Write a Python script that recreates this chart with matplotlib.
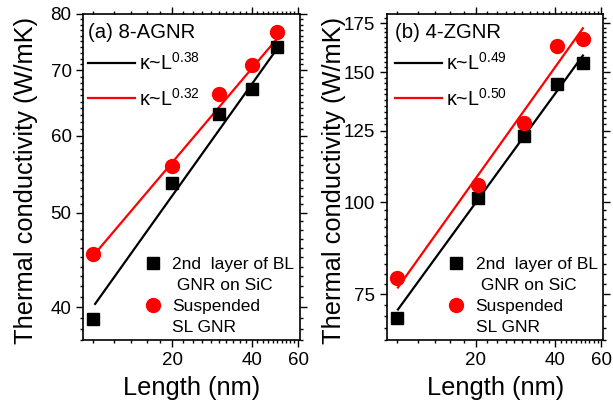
import numpy as np
import matplotlib
matplotlib.use("Agg")
import matplotlib.pyplot as plt
from matplotlib.lines import Line2D
from matplotlib.ticker import FixedLocator, FixedFormatter, NullFormatter

plt.rcParams["font.family"] = ["Liberation Sans", "DejaVu Sans"]
plt.rcParams["mathtext.fontset"] = "custom"
plt.rcParams["mathtext.rm"] = "Liberation Sans"
plt.rcParams["mathtext.it"] = "Liberation Sans:italic"

# values
agnr_length = [10, 20, 30, 40, 50]
agnr_bl = [38.9, 53.7, 63.2, 67.0, 74.0]   # 2nd layer of BL GNR on SiC
agnr_sl = [45.4, 55.9, 66.2, 70.9, 76.7]   # suspended SL GNR

zgnr_length = [10, 20.3, 30.4, 40.8, 51]
zgnr_bl = [69.7, 101.3, 122.9, 144.5, 154.5]
zgnr_sl = [78.8, 105.5, 128.2, 162.8, 166.7]

# power-law fits kappa = k0 * (L / L0)^b  (black, red)
agnr_fit_span = [10.2, 50]
agnr_fit_exp = [0.38, 0.32]
agnr_fit_k0 = [40.3, 45.4]
zgnr_fit_span = [10.1, 51]
zgnr_fit_exp = [0.49, 0.50]
zgnr_fit_k0 = [71.5, 76.6]

x_major = [20, 40, 60]
agnr_yticks = [40, 50, 60, 70, 80]
zgnr_yticks = [75, 100, 125, 150, 175]

RED = "#ff0000"
TICK_FS = 13.5
LABEL_FS = 18.3


def fit_line(span, k0, b):
    x = np.array(span, dtype=float)
    return x, k0 * (x / x[0]) ** b


def setup_axes(ax, ylim, yticks, yminor_step):
    ax.set_xscale("log")
    ax.set_yscale("log")
    ax.set_xlim(9.2, 61)
    ax.set_ylim(*ylim)

    ax.xaxis.set_major_locator(FixedLocator(x_major))
    ax.xaxis.set_major_formatter(FixedFormatter([str(v) for v in x_major]))
    xminor = [v for v in np.arange(10, 61, 2) if v not in x_major]
    ax.xaxis.set_minor_locator(FixedLocator(xminor))
    ax.xaxis.set_minor_formatter(NullFormatter())

    ax.yaxis.set_major_locator(FixedLocator(yticks))
    ax.yaxis.set_major_formatter(FixedFormatter([str(v) for v in yticks]))
    yminor = [v for v in np.arange(ylim[0], ylim[1], yminor_step) if v not in yticks]
    ax.yaxis.set_minor_locator(FixedLocator(yminor))
    ax.yaxis.set_minor_formatter(NullFormatter())

    ax.tick_params(which="both", direction="out", top=True, right=True,
                   width=1.0, labelsize=TICK_FS)
    ax.tick_params(which="major", length=5)
    ax.tick_params(which="minor", length=2.5)
    for sp in ax.spines.values():
        sp.set_linewidth(1.2)

    ax.set_xlabel("Length (nm)", fontsize=LABEL_FS, labelpad=5)
    ax.set_ylabel("Thermal conductivity (W/mK)", fontsize=LABEL_FS)


def draw_panel(ax, title, length, bl, sl, span, k0, exps, line_x):
    xb, yb = fit_line(span, k0[0], exps[0])
    xr, yr = fit_line(span, k0[1], exps[1])
    lb, = ax.plot(xb, yb, color="black", lw=1.6)
    lr, = ax.plot(xr, yr, color=RED, lw=1.6)
    sq, = ax.plot(length, bl, "s", color="black", ms=8.5, ls="none")
    ci, = ax.plot(length, sl, "o", color=RED, ms=10, ls="none")

    ax.text(line_x, 0.942, title, transform=ax.transAxes, fontsize=14.7,
            va="center", ha="left")

    leg1 = ax.legend([lb, lr],
                     [r"κ~$\mathregular{L^{%.2f}}$" % exps[0],
                      r"κ~$\mathregular{L^{%.2f}}$" % exps[1]],
                     loc="upper left", bbox_to_anchor=(line_x, 0.883),
                     frameon=False, fontsize=14.2, handlelength=2.4,
                     handletextpad=0.2, borderpad=0, borderaxespad=0,
                     labelspacing=0.68)
    ax.add_artist(leg1)

    blank = Line2D([], [], ls="none")
    ax.legend([sq, blank, ci, blank],
              ["2nd  layer of BL", " GNR on SiC", "Suspended", "SL GNR"],
              loc="upper left", bbox_to_anchor=(0.28, 0.256),
              frameon=False, fontsize=12.5, handlelength=1.0,
              handletextpad=0.6, borderpad=0, borderaxespad=0,
              labelspacing=0.35)


fig = plt.figure(figsize=(6.13, 4.03), dpi=100)
ax0 = fig.add_axes([0.1359, 0.1563, 0.3535, 0.809])
ax1 = fig.add_axes([0.6318, 0.1563, 0.3524, 0.809])

setup_axes(ax0, (37.0, 80.0), agnr_yticks, 1)
setup_axes(ax1, (65.0, 180.0), zgnr_yticks, 2.5)

draw_panel(ax0, "(a) 8-AGNR", agnr_length, agnr_bl, agnr_sl,
           agnr_fit_span, agnr_fit_k0, agnr_fit_exp, 0.022)
draw_panel(ax1, "(b) 4-ZGNR", zgnr_length, zgnr_bl, zgnr_sl,
           zgnr_fit_span, zgnr_fit_k0, zgnr_fit_exp, 0.036)

ax0.yaxis.set_label_coords(-0.21, 0.488)
ax1.yaxis.set_label_coords(-0.19, 0.488)

fig.savefig("out.png", dpi=100)
